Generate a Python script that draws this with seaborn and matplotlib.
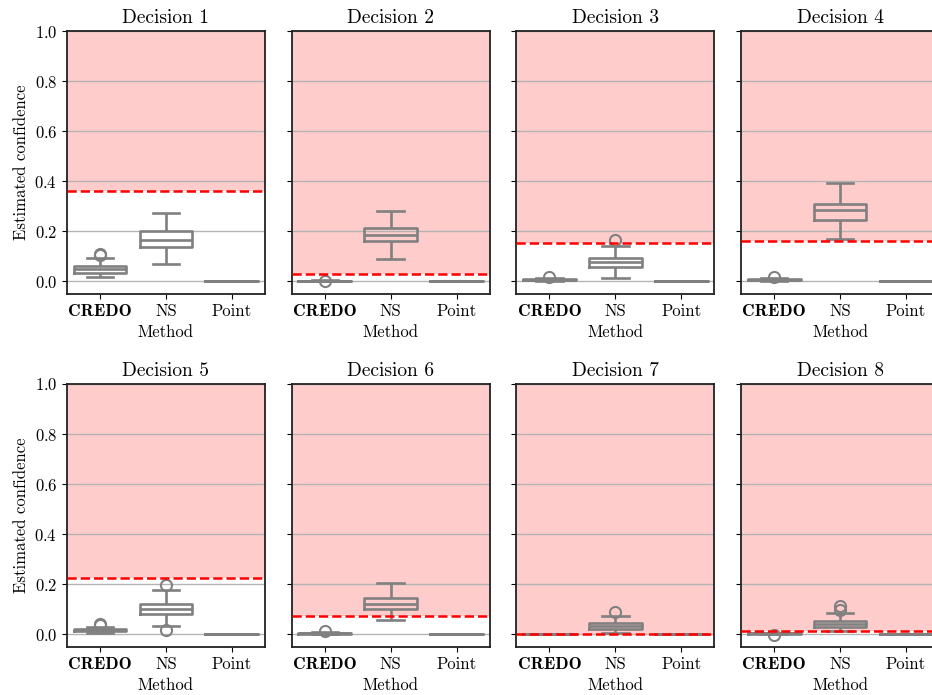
import numpy as np
import pandas as pd
import matplotlib
matplotlib.use("Agg")
import matplotlib.pyplot as plt
import seaborn as sns

methods = ["CREDO", "NS", "Point"]
decisions = [f"Decision {i}" for i in range(1, 9)]
thresholds = [0.360, 0.031, 0.152, 0.163, 0.224, 0.075, 0.002, 0.012]

# box summaries per decision: whisker low, q1, median, q3, whisker high, outliers
credo_lo = [0.017, 0.0015, 0.001, 0.001, 0.005, 0.001, 0.001, 0.001]
credo_q1 = [0.035, 0.0025, 0.004, 0.004, 0.012, 0.003, 0.001, 0.003]
credo_med = [0.049, 0.003, 0.006, 0.006, 0.016, 0.0045, 0.001, 0.004]
credo_q3 = [0.061, 0.0035, 0.008, 0.008, 0.021, 0.006, 0.001, 0.005]
credo_hi = [0.095, 0.0045, 0.012, 0.012, 0.030, 0.009, 0.001, 0.007]
credo_out = [[0.104, 0.110], [0.0], [0.017], [0.019], [0.037, 0.042], [0.014], [], [-0.001]]

ns_lo = [0.071, 0.090, 0.012, 0.171, 0.032, 0.056, 0.005, 0.013]
ns_q1 = [0.137, 0.162, 0.058, 0.246, 0.083, 0.103, 0.021, 0.030]
ns_med = [0.165, 0.185, 0.077, 0.284, 0.103, 0.121, 0.033, 0.043]
ns_q3 = [0.201, 0.212, 0.094, 0.309, 0.123, 0.145, 0.046, 0.055]
ns_hi = [0.273, 0.283, 0.143, 0.395, 0.176, 0.205, 0.073, 0.084]
ns_out = [[], [], [0.164], [], [0.196, 0.017], [], [0.088], [0.099, 0.114]]

point_val = [0.002, 0.002, 0.002, 0.002, 0.002, 0.002, 0.001, 0.002]


def sample(lo, q1, med, q3, hi, out, k=10):
    return [lo] + [q1] * k + [med] * k + [q3] * k + [hi] + list(out)


rows = []
for d in range(8):
    for v in sample(credo_lo[d], credo_q1[d], credo_med[d], credo_q3[d], credo_hi[d], credo_out[d]):
        rows.append((decisions[d], "CREDO", v))
    for v in sample(ns_lo[d], ns_q1[d], ns_med[d], ns_q3[d], ns_hi[d], ns_out[d]):
        rows.append((decisions[d], "NS", v))
    for v in [point_val[d]] * 31:
        rows.append((decisions[d], "Point", v))
df = pd.DataFrame(rows, columns=["Decision", "Method", "Estimated confidence"])

plt.rcParams["font.family"] = ["cmr10", "DejaVu Serif"]
plt.rcParams["axes.unicode_minus"] = False
plt.rcParams["mathtext.fontset"] = "cm"
plt.rcParams["axes.formatter.use_mathtext"] = True

fig, axes = plt.subplots(2, 4, figsize=(9.32, 6.95), dpi=100, sharey=True)
fig.subplots_adjust(left=67 / 932, right=939 / 932, top=1 - 31 / 695,
                    bottom=1 - 647 / 695, wspace=0.136, hspace=0.342)

for i, ax in enumerate(axes.flat):
    th = thresholds[i]
    sub = df[df["Decision"] == decisions[i]]
    ax.axhspan(th, 1.0, color="red", alpha=0.2, lw=0, zorder=0)
    sns.boxplot(data=sub, x="Method", y="Estimated confidence", order=methods, ax=ax,
                fill=False, color="#808080", linewidth=1.9, width=0.8,
                flierprops=dict(marker="o", markersize=8, markeredgewidth=1.5))
    ax.axhline(th, color="red", ls="--", lw=1.8, zorder=5)
    ax.set_ylim(-0.05, 1.0)
    ax.set_xlim(-0.5, 2.5)
    ax.set_yticks([0.0, 0.2, 0.4, 0.6, 0.8, 1.0])
    ax.yaxis.grid(True, color="#b4b4b4", lw=1.0)
    ax.set_axisbelow(True)
    ax.set_title(decisions[i], fontsize=14)
    ax.set_xlabel("Method", fontsize=12)
    ax.set_xticks(range(3))
    ax.set_xticklabels(methods, fontsize=12)
    ax.tick_params(axis="y", labelsize=12)
    ax.get_xticklabels()[0].set_fontfamily(["cmb10", "DejaVu Serif"])
    ax.get_xticklabels()[0].set_fontsize(12.5)
    if i % 4 == 0:
        ax.set_ylabel("Estimated confidence", fontsize=12)
    else:
        ax.set_ylabel("")
    for s in ax.spines.values():
        s.set_linewidth(1.3)
        s.set_color("#222222")

fig.savefig("out.png", dpi=100)
